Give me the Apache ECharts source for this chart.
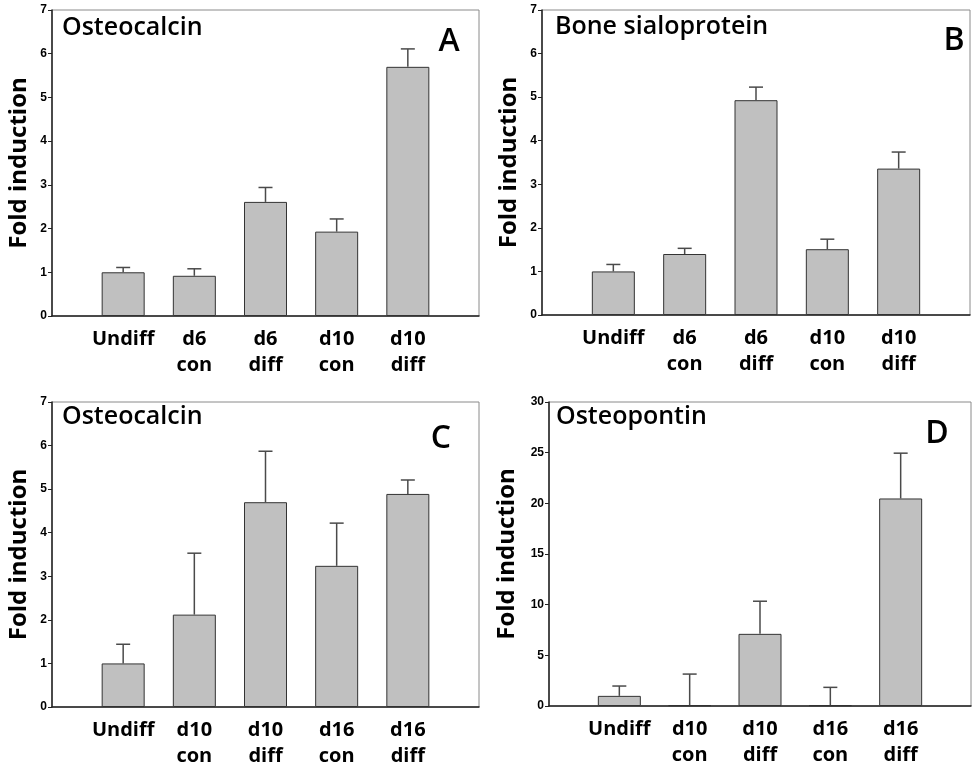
<!DOCTYPE html>
<html>
<head>
<meta charset="utf-8">
<script src="https://cdn.jsdelivr.net/npm/echarts@6/dist/echarts.min.js"></script>
<style>
html, body { margin: 0; padding: 0; background: #fff; }
#chart { width: 973px; height: 764px; }
</style>
</head>
<body>
<div id="chart"></div>
<script>
// categories per panel
const catsAB = ['Undiff', 'd6\ncon', 'd6\ndiff', 'd10\ncon', 'd10\ndiff']
const catsCD = ['Undiff', 'd10\ncon', 'd10\ndiff', 'd16\ncon', 'd16\ndiff']

// bar means and top of error bars (mean + SD)
const meanA = [1.0, 0.92, 2.61, 1.93, 5.70]
const errA = [1.11, 1.08, 2.94, 2.22, 6.11]
const meanB = [1.0, 1.40, 4.93, 1.51, 3.36]
const errB = [1.16, 1.53, 5.23, 1.74, 3.74]
const meanC = [1.0, 2.12, 4.70, 3.24, 4.89]
const errC = [1.44, 3.53, 5.87, 4.22, 5.21]
const meanD = [1.0, 0.08, 7.12, 0.08, 20.48]
const errD = [1.97, 3.15, 10.34, 1.84, 24.95]

const titles = ['Osteocalcin', 'Bone sialoprotein', 'Osteocalcin', 'Osteopontin']
const letters = ['A', 'B', 'C', 'D']
const yMax = [7, 7, 7, 30]
const yStep = [1, 1, 1, 5]

const chart = echarts.init(document.getElementById('chart'))

// panel layout
const grids = [
    { left: 52, top: 10, width: 427, height: 306, nameGap: 21 },
    { left: 542, top: 10, width: 428, height: 305, nameGap: 21 },
    { left: 52, top: 402, width: 427, height: 305, nameGap: 21 },
    { left: 549, top: 402, width: 422, height: 304, nameGap: 30 },
]
const panels = [
    { cats: catsAB, mean: meanA, err: errA },
    { cats: catsAB, mean: meanB, err: errB },
    { cats: catsCD, mean: meanC, err: errC },
    { cats: catsCD, mean: meanD, err: errD },
]

const option = {
    animation: false,
    grid: [],
    xAxis: [],
    yAxis: [],
    series: [],
    graphic: [],
}

panels.forEach((p, i) => {
    const g = grids[i]
    option.grid.push({
        left: g.left, top: g.top, width: g.width, height: g.height,
        outerBoundsMode: 'none',
        show: true, borderColor: '#8a8a8a', borderWidth: 1, backgroundColor: 'transparent',
    })
    option.xAxis.push({
        type: 'category',
        gridIndex: i,
        data: [''].concat(p.cats, ['']),
        boundaryGap: false,
        axisLine: { lineStyle: { color: '#222', width: 1.5 } },
        axisTick: { show: false },
        axisLabel: {
            interval: 0,
            margin: 10,
            color: '#000',
            fontFamily: 'Open Sans',
            fontWeight: 'bold',
            fontSize: 20,
            lineHeight: 26,
        },
    })
    option.yAxis.push({
        type: 'value',
        gridIndex: i,
        min: 0,
        max: yMax[i],
        interval: yStep[i],
        name: 'Fold induction',
        nameLocation: 'middle',
        nameGap: g.nameGap,
        nameTextStyle: { color: '#000', fontFamily: 'Open Sans', fontWeight: 'bold', fontSize: 24 },
        axisLine: { show: true, lineStyle: { color: '#222', width: 1.5 } },
        axisTick: { show: true, length: 4, lineStyle: { color: '#222' } },
        splitLine: { show: false },
        axisLabel: { color: '#000', fontFamily: 'Liberation Sans', fontWeight: 'bold', fontSize: 12, margin: 5 },
    })
    option.series.push({
        type: 'bar',
        xAxisIndex: i,
        yAxisIndex: i,
        barWidth: 43,
        data: [null].concat(p.mean, [null]),
        itemStyle: { color: '#c0c0c0', borderColor: '#333', borderWidth: 1 },
        z: 2,
    })
    // upper error whiskers with caps
    option.series.push({
        type: 'custom',
        xAxisIndex: i,
        yAxisIndex: i,
        data: p.err.map((e, k) => [k + 1, p.mean[k], e]),
        renderItem: (params, api) => {
            const base = api.coord([api.value(0), api.value(1)])
            const top = api.coord([api.value(0), api.value(2)])
            const style = { stroke: '#4a4a4a', lineWidth: 1.5 }
            return {
                type: 'group',
                children: [
                    { type: 'line', shape: { x1: base[0], y1: base[1], x2: top[0], y2: top[1] }, style: style },
                    { type: 'line', shape: { x1: top[0] - 7, y1: top[1], x2: top[0] + 7, y2: top[1] }, style: style },
                ],
            }
        },
        z: 3,
    })
})

// panel titles and letters
const titlePos = [[62, 32], [555, 31], [62, 421], [556, 421]]
const letterPos = [[449, 42], [954, 41], [441, 439], [937, 434]]
titles.forEach((t, i) => {
    option.graphic.push({
        type: 'text', left: titlePos[i][0], top: titlePos[i][1] - 17,
        style: { text: t, fill: '#000', font: '600 25px "Open Sans"' },
    })
    option.graphic.push({
        type: 'text', x: letterPos[i][0], y: letterPos[i][1],
        style: { text: letters[i], fill: '#000', font: '600 32px "Open Sans"', align: 'center', verticalAlign: 'middle' },
    })
})

chart.setOption(option)
</script>
</body>
</html>
